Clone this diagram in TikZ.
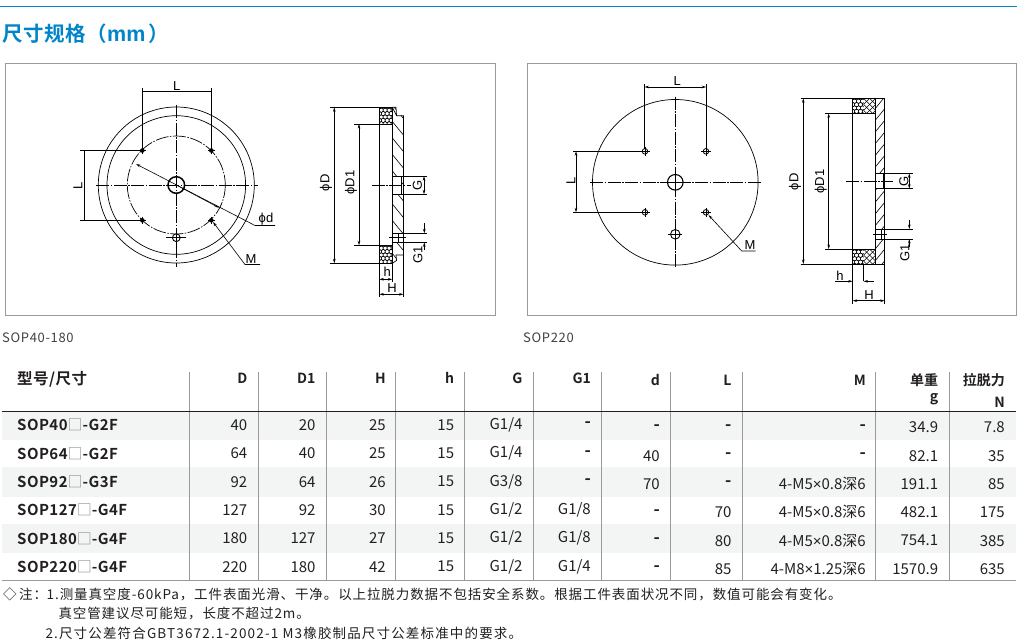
\documentclass[tikz,border=0pt]{standalone}
\usepackage{fontspec}
\usetikzlibrary{arrows.meta}
\setmainfont{Noto Sans CJK SC}[BoldFont={Noto Sans CJK SC Bold}]
\newfontfamily\dwgfont{Liberation Sans}
\newfontfamily\notefont{Noto Sans CJK SC}[LetterSpace=6.7]
\newfontfamily\noteBfont{Noto Sans CJK SC}[LetterSpace=8.6]
\newfontfamily\capfont{Noto Sans CJK SC}[LetterSpace=5]
\newfontfamily\modelfont{Noto Sans CJK SC Bold}[LetterSpace=3]
\newfontfamily\titlefont{Noto Sans CJK SC Bold}[LetterSpace=3]
\newfontfamily\titlemfont{Liberation Sans}
\definecolor{ink}{HTML}{231F20}
\definecolor{blueT}{HTML}{0085CA}
\definecolor{band}{HTML}{F3F5F5}
\definecolor{framec}{HTML}{9A9A9A}
\definecolor{boxc}{HTML}{8A8A8A}
\tikzset{
  cad/.style={line width=.7pt,draw=black},
  thick cad/.style={line width=1.3pt,draw=black},
  ctr/.style={line width=.7pt,draw=black,dash pattern=on 13pt off 1.5pt on 1.5pt off 1.5pt},
  tipA/.tip={Stealth[length=4.5pt,width=2.6pt]},
  dim/.style={line width=.6pt,draw=black,tipA-tipA},
  lead/.style={line width=.6pt,draw=black,tipA-},
  onearrow/.style={line width=.6pt,draw=black,-tipA},
  lab/.style={font=\dwgfont\fontsize{13}{13}\selectfont,inner sep=0pt,text=black},
  vlab/.style={lab,rotate=90},
  cellR/.style={anchor=east,inner sep=0pt,text=ink,font=\fontsize{15}{15}\selectfont},
  headR/.style={anchor=east,inner sep=0pt,text=ink,font=\bfseries\fontsize{14}{14}\selectfont},
  modelL/.style={anchor=west,inner sep=0pt,text=ink,font=\modelfont\fontsize{15}{15}\selectfont},
  noteL/.style={anchor=west,inner sep=0pt,text=ink,font=\notefont\fontsize{13.5}{13.5}\selectfont},
  capL/.style={anchor=west,inner sep=0pt,text=ink!85,font=\capfont\fontsize{13}{13}\selectfont},
}
% hexagon fill of a rectangle
\newcommand\hexfill[4]{%
  \begin{scope}
    \clip (#1,#2) rectangle (#3,#4);
    \foreach \hi in {0,...,7}{\foreach \hj in {0,...,6}{
      \pgfmathsetmacro\hx{#1+\hi*3.9+mod(\hj,2)*1.95}
      \pgfmathsetmacro\hy{#2+\hj*3.4-.5}
      \draw[line width=.5pt,shift={(\hx,\hy)}] (30:2.25)--(90:2.25)--(150:2.25)--(210:2.25)--(270:2.25)--(330:2.25)--cycle;
    }}
  \end{scope}}
\newcommand\crossfill[4]{%
  \begin{scope}
    \clip (#1,#2) rectangle (#3,#4);
    \foreach \ci in {-6,...,6}{
      \draw[line width=.6pt] ({#1+\ci*6},#2)--++(24,24);
      \draw[line width=.6pt] ({#3-\ci*6},#2)--++(-24,24);
    }
  \end{scope}}
% table rows
\newcommand\rowA[9]{%
  \node[modelL] (m#1) at (17,#2) {#3};
  \node[cellR] (D#1) at (247.5,#2) {#4};
  \node[cellR] (Da#1) at (315.7,#2) {#5};
  \node[cellR] (H#1) at (386,#2) {#6};
  \node[cellR] (h#1) at (454.3,#2) {#7};
  \node[cellR] (G#1) at (522.7,#2) {#8};
  \node[cellR] (Ga#1) at (591,#2) {#9};}
\newcommand\rowB[7]{%
  \node[cellR] (d#1) at (660,#2) {#3};
  \node[cellR] (L#1) at (731.7,#2) {#4};
  \node[cellR] (M#1) at (866,#2) {#5};
  \node[cellR] (w#1) at (938.3,#2) {#6};
  \node[cellR] (N#1) at (1005,#2) {#7};}
\newcommand\bx{\textcolor{boxc}{\normalfont\mdseries □}}
\newcommand\dsh{{\bfseries\fontsize{17}{17}\selectfont -}}
\newcommand\tms{{\dwgfont ×}}
\begin{document}
\begin{tikzpicture}[x=1pt,y=-1pt]
\useasboundingbox (0,0) rectangle (1017,643);
\fill[white] (0,0) rectangle (1017,643);
% title
\draw[blueT,line width=1.1pt] (0,6.8)--(1017,6.8);
\node[anchor=west,inner sep=0pt,text=blueT,font=\titlefont\fontsize{20.5}{20.5}\selectfont] (title) at (2,33.5) {尺寸规格（{\titlemfont\bfseries\fontsize{21.5}{21.5}\selectfont mm}\,）};
% frames
\draw[framec,line width=.8pt] (5,63) rectangle (495,315);
\draw[framec,line width=.8pt] (527,63) rectangle (1016,315);
\node[capL] (cap1) at (2,337.5) {SOP40-180};
\node[capL] (cap2) at (523,337.5) {SOP220};

%% ---------- left front view
\begin{scope}[shift={(176.3,185)}]
  \draw[cad] (0,0) circle (78);
  \draw[cad] (0,0) circle (69.3);
  \draw[ctr] (0,0) circle (49);
  \draw[ctr] (-80,0)--(82,0);
  \draw[ctr] (0,-80)--(0,82);
  \draw[line width=1.5pt] (0,0) circle (8.3);
  \draw[line width=.9pt,fill=white] (0,52.7) circle (3.9);
  \draw[cad] (-10,52.7)--(10,52.7) (0,44)--(0,61);
  \foreach \px/\py in {-34/-34.5,35/-34.5,-34/35.3,35/35.3}{
    \fill (\px,\py) circle (2.3);
    \draw[line width=.5pt] (\px-3.5,\py)--(\px+3.5,\py) (\px,\py-3.5)--(\px,\py+3.5);
  }
\end{scope}
\coordinate (lLa) at (142.3,150.5);\coordinate (lLb) at (211.5,150.5);
\coordinate (lLc) at (142.3,220.3);\coordinate (lLd) at (211.5,220.3);
\draw[cad] (lLa)--(142.3,88) (lLb)--(211.5,88) (142.3,91)--(211.5,91);
\draw[cad] (lLa)--(80,150.5) (lLc)--(80,220.3) (84.7,150.5)--(84.7,220.3);
\node[lab] (l1) at (176.7,86) {L};
\node[vlab] (l2) at (78,185.7) {L};
\coordinate (dA) at (136,164);\coordinate (dO) at (176.3,185);\coordinate (dB) at (219,207.7);\coordinate (dC) at (255,225.5);\coordinate (dD) at (275,225.5);
\draw[lead] (dA)--(dC)--(dD);
\draw[onearrow] (dO)--(dB);
\node[lab] (l3) at (266,219) {ϕd};
\coordinate (mA) at (213,222);\coordinate (mB) at (245,264.5);\coordinate (mC) at (260,264.5);
\draw[lead] (mA)--(mB)--(mC);
\node[lab] (l4) at (251,259) {M};

%% ---------- left side view
\begin{scope}
  \path[fill=white] (392.3,107.3)--(396,107.3)--(396.5,115.7)--(403.5,115.7)--(403.5,254.9)--(396,254.9)--(396.5,260.5)--(392.3,263.3)--cycle;
  \clip (392.3,107.3)--(396,107.3)--(396.5,115.7)--(403.5,115.7)--(403.5,254.9)--(396,254.9)--(396.5,260.5)--(392.3,263.3)--cycle;
  \foreach \hy in {0,...,10}{\draw[line width=.6pt] (392.3,{105+\hy*16.5})--++(11.5,14);}
\end{scope}
\draw[cad] (392.3,107.3)--(396,107.3)--(396.5,115.7)--(403.5,115.7)--(403.5,254.9)--(396,254.9)--(396.5,260.5)--(392.3,263.3);
\draw[cad] (392.3,107.3)--(396.5,115.7);
\hexfill{379.3}{107.3}{392.3}{124}
\hexfill{379.3}{245.3}{392.3}{263.3}
\draw[cad] (379.3,107.3) rectangle (392.3,124);
\draw[cad] (379.3,245.3) rectangle (392.3,263.3);
\draw[cad] (379.3,107.3)--(379.3,297);
\draw[cad] (392.3,124)--(392.3,282);
\draw[cad] (403.5,254.9)--(403.5,297);
% G port
\draw[thick cad,fill=white] (392.3,176.2) rectangle (401.8,194.3);
\draw[cad] (401.8,176.2)--(427,176.2) (401.8,194.3)--(427,194.3);
\draw[ctr] (371.7,185)--(410.7,185);
% G1 hole
\draw[cad,fill=white] (392.3,233.3) rectangle (403.5,242.3);
\draw[cad] (398.5,233.3)--(398.5,242.3);
\draw[cad] (389,237.7)--(405.5,237.7);
\draw[cad] (403.5,233.3)--(427,233.3) (403.5,242.3)--(427,242.3);
% extension lines and dimensions
\draw[cad] (330,107.3)--(379.3,107.3) (330,263.3)--(379.3,263.3);
\draw[cad] (354.3,124)--(392.3,124) (354.3,245.3)--(392.3,245.3);
\draw[dim] (334.3,107.3)--(334.3,263.3);
\draw[dim] (359,124)--(359,245.3);
\draw[dim] (424,176.2)--(424,194.3);
\draw[onearrow] (424.3,223)--(424.3,233.3);
\draw[onearrow] (424.3,250)--(424.3,242.3);
\draw[dim] (379.3,279.3)--(392.3,279.3);
\draw[dim] (379.3,294.3)--(403.5,294.3);
\node[vlab] (l5) at (326,182.7) {ϕD};
\node[vlab] (l6) at (351,182.7) {ϕD1};
\node[vlab] (l7) at (417.3,185) {G};
\node[vlab] (l8) at (418,255) {G1};
\node[lab] (l9) at (387.3,272) {h};
\node[lab] (l10) at (392,288) {H};

%% ---------- right front view
\begin{scope}[shift={(675.3,182.3)}]
  \draw[cad] (0,0) circle (82.8);
  \draw[ctr] (-85.3,0)--(85.4,0);
  \draw[ctr] (0,-85.6)--(0,84.7);
  \draw[line width=1.1pt,fill=white] (0,0) circle (7.8);
  \draw[cad] (-7.8,0)--(7.8,0) (0,-7.8)--(0,7.8);
  \draw[line width=.9pt] (0,52) circle (4.8);
  \draw[cad] (-7,52)--(7,52) (0,44)--(0,60);
  \foreach \px/\py in {-30.3/-31,30.7/-31,-30.3/30,30.7/30}{
    \draw[line width=.8pt] (\px,\py) circle (2.8);
    \draw[line width=.5pt] (\px-4.8,\py)--(\px+4.8,\py) (\px,\py-4.8)--(\px,\py+4.8);
  }
\end{scope}
\draw[cad] (644.5,148.5)--(644.5,84) (706.2,148.5)--(706.2,84);
\draw[dim] (644.5,87)--(706.2,87);
\draw[cad] (642,151.3)--(573,151.3) (642,212.3)--(573,212.3);
\draw[dim] (576,151.3)--(576,212.3);
\node[lab] (r1) at (677.3,81.5) {L};
\node[vlab] (r2) at (571,180.7) {L};
\coordinate (nA) at (708.5,215);\coordinate (nB) at (741.7,251);\coordinate (nC) at (755.7,251);
\draw[lead] (nA)--(nB)--(nC);
\node[lab] (r3) at (750,245.5) {M};

%% ---------- right side view
\begin{scope}
  \clip (875.7,98.3) rectangle (884.7,264);
  \foreach \hy in {0,...,15}{\draw[line width=.6pt] (875.7,{108+\hy*11.7})--++(9,-11);}
\end{scope}
\draw[cad] (875.7,98.3)--(884.7,98.3)--(884.7,264)--(875.7,264)--cycle;
\hexfill{852.7}{98.3}{863.5}{113.3}
\hexfill{852.7}{249}{863.5}{264}
\crossfill{863.5}{98.3}{875.7}{113.3}
\crossfill{863.5}{249}{875.7}{264}
\draw[cad] (852.7,98.3) rectangle (875.7,113.3);
\draw[cad] (852.7,249) rectangle (875.7,264);
\draw[cad] (852.7,98.3)--(852.7,304);
\draw[cad] (875.7,113.3)--(875.7,249);
\draw[cad] (884.7,264)--(884.7,304);
\draw[cad] (863.5,264)--(863.5,281.3);
\draw[thick cad,fill=white] (875.7,173.3) rectangle (884,188.7);
\draw[cad] (884,173.3)--(913.3,173.3) (884,188.7)--(913.3,188.7);
\draw[ctr] (846,181.3)--(893.3,181.3);
\draw[cad,fill=white] (875.7,229) rectangle (884.7,239);
\draw[cad] (881,229)--(881,239);
\draw[cad] (873,234)--(886.5,234);
\draw[cad] (884.7,229)--(913.3,229) (884.7,239)--(913.3,239);
\draw[cad] (800.5,98.3)--(852.7,98.3) (800.5,264)--(852.7,264);
\draw[cad] (825,113.3)--(875.7,113.3) (825,249)--(875.7,249);
\draw[dim] (803.3,98.3)--(803.3,264);
\draw[dim] (828.7,113.3)--(828.7,249);
\draw[dim] (909.3,173.3)--(909.3,188.7);
\draw[onearrow] (909.3,220)--(909.3,229);
\draw[onearrow] (909.3,247)--(909.3,239);
\draw[onearrow] (835,281.3)--(852.7,281.3);
\draw[onearrow] (873.5,281.3)--(863.5,281.3);
\draw[dim] (852.7,300.7)--(884.7,300.7);
\node[vlab] (r4) at (795,181.7) {ϕD};
\node[vlab] (r5) at (820.7,181.7) {ϕD1};
\node[vlab] (r6) at (904,181.7) {G};
\node[vlab] (r7) at (905,253.3) {G1};
\node[lab] (r8) at (840,275.5) {h};
\node[lab] (r9) at (869,295) {H};

%% ---------- table
\fill[band] (2,411.7) rectangle (1016,440);
\fill[band] (2,467) rectangle (1016,496.7);
\fill[band] (2,524) rectangle (1016,552.7);
\foreach \vx in {189.3,258.3,326.3,395.3,464.3,533.3,601.3,670.3,742.3,875.3,949.3}{
  \draw[framec,line width=.75pt] (\vx,372)--(\vx,580.5);
}
\draw[ink,line width=.9pt] (2,411.7)--(1016,411.7);
\draw[framec,line width=.8pt] (2,580.5)--(1016,580.5);
\node[modelL,font=\modelfont\fontsize{15.5}{15.5}\selectfont] (hm) at (17,379) {型号/尺寸};
\node[headR] (hD) at (247.5,378) {D};
\node[headR] (hDa) at (315.7,378) {D1};
\node[headR] (hH) at (386,378) {H};
\node[headR] (hh) at (454.3,378) {h};
\node[headR] (hG) at (522.7,378) {G};
\node[headR] (hGa) at (591,378) {G1};
\node[headR] (hd) at (660,380) {d};
\node[headR] (hL) at (731.7,380) {L};
\node[headR] (hM) at (866,380) {M};
\node[headR] (hw) at (938.3,380) {单重};
\node[headR] (hg) at (938.3,399.5) {g};
\node[headR] (hf) at (1005,380) {拉脱力};
\node[headR] (hN) at (1005,402) {N};
\rowA{1}{425}{SOP40\bx-G2F}{40}{20}{25}{15}{G1/4}{\dsh}
\rowA{2}{453.3}{SOP64\bx-G2F}{64}{40}{25}{15}{G1/4}{\dsh}
\rowA{3}{481.7}{SOP92\bx-G3F}{92}{64}{26}{15}{G3/8}{\dsh}
\rowA{4}{510}{SOP127\bx-G4F}{127}{92}{30}{15}{G1/2}{G1/8}
\rowA{5}{538.3}{SOP180\bx-G4F}{180}{127}{27}{15}{G1/2}{G1/8}
\rowA{6}{566.7}{SOP220\bx-G4F}{220}{180}{42}{15}{G1/2}{G1/4}
\rowB{1}{427.3}{\dsh}{\dsh}{\dsh}{34.9}{7.8}
\rowB{2}{455.7}{40}{\dsh}{\dsh}{82.1}{35}
\rowB{3}{484}{70}{\dsh}{4-M5\tms0.8深6}{191.1}{85}
\rowB{4}{512.3}{\dsh}{70}{4-M5\tms0.8深6}{482.1}{175}
\rowB{5}{540.7}{\dsh}{80}{4-M5\tms0.8深6}{754.1}{385}
\rowB{6}{569}{\dsh}{85}{4-M8\tms1.25深6}{1570.9}{635}
%% ---------- notes
\node[noteL] (n0) at (3,594.3) {◇};
\node[noteL] (n1) at (19,594.3) {注：};
\node[noteL] (n2) at (46.5,594.3) {1.测量真空度-60kPa，工件表面光滑、干净。以上拉脱力数据不包括安全系数。根据工件表面状况不同，数值可能会有变化。};
\node[noteL] (n3) at (58.3,614) {真空管建议尽可能短，长度不超过2m。};
\node[noteL,font=\noteBfont\fontsize{13.5}{13.5}\selectfont] (n4) at (45.3,633.3) {2.尺寸公差符合GBT3672.1-2002-1 M3橡胶制品尺寸公差标准中的要求。};
\end{tikzpicture}
\end{document}
